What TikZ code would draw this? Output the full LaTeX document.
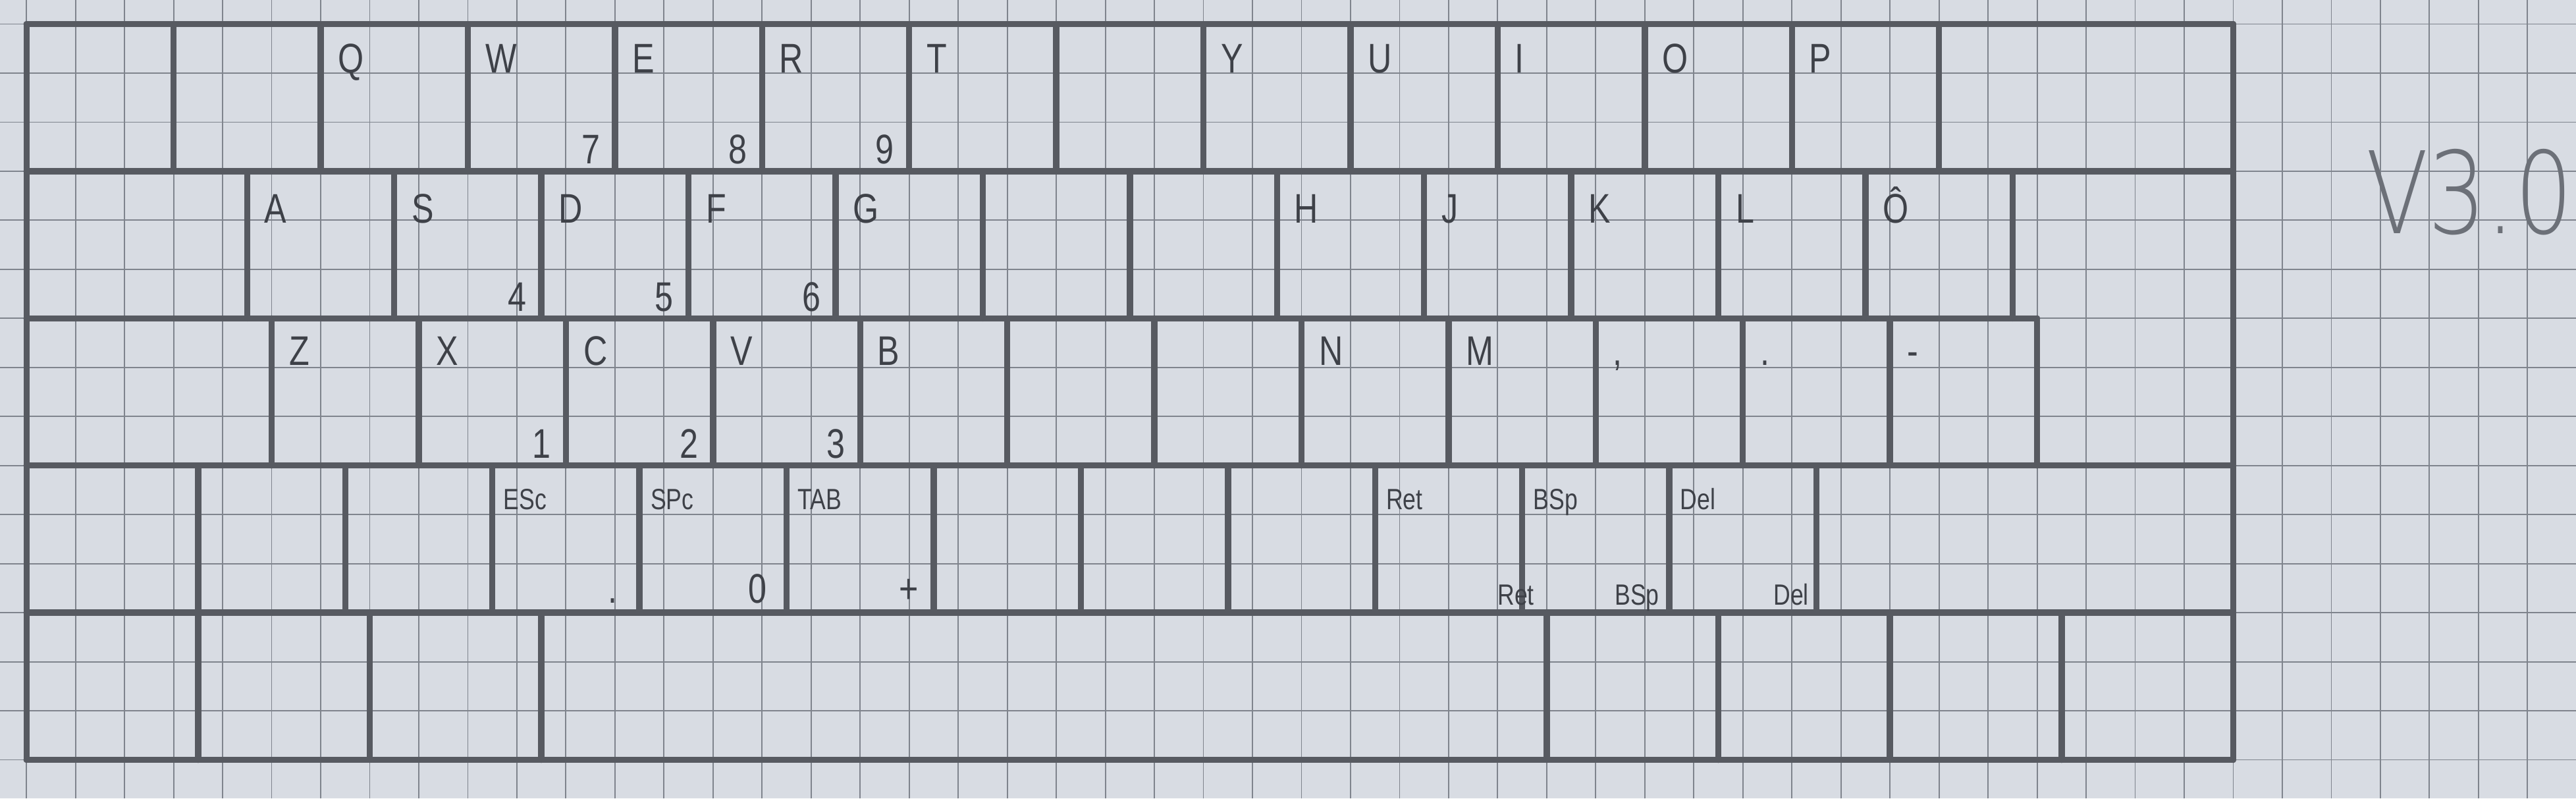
\documentclass[tikz,border=0pt]{standalone}
\usepackage{fontspec}
\setmainfont{Liberation Sans}
\newfontfamily\handfont[FakeStretch=0.8]{Liberation Sans}
\newfontfamily\thinfont[FakeStretch=0.8]{DejaVu Sans ExtraLight}
\usetikzlibrary{positioning}
\definecolor{paper}{HTML}{D8DCE3}
\definecolor{papergrid}{HTML}{7F848D}
\definecolor{pencil}{HTML}{575A61}
\definecolor{ink}{HTML}{3E4148}
\tikzstyle{gridline} = [draw=papergrid, line width=0.7pt]
\tikzstyle{keyline} = [draw=pencil, line width=3.6pt, line cap=round]
\tikzstyle{keycap} = [inner sep=0pt, text=ink, font=\handfont\fontsize{24}{24}\selectfont]
\tikzstyle{keymod} = [inner sep=0pt, text=ink, font=\handfont\fontsize{17}{17}\selectfont]
\tikzstyle{version} = [inner sep=0pt, text=papergrid!85!black, font=\thinfont\fontsize{66}{66}\selectfont]

\begin{document}
\begin{tikzpicture}
    % Paper
    \fill[paper] (-0.54,-15.79) rectangle (51.99,0.49);
    \useasboundingbox (-0.54,-15.79) rectangle (51.99,0.49);
    \draw[gridline] (-0.54,-15.79) grid (51.99,0.49);

    % Rows
    \foreach \y in {0,-3,-9,-12,-15}
        \draw[keyline] (0,\y) -- (45,\y);
    \draw[keyline] (0,-6) -- (41,-6);
    \draw[keyline] (0,0) -- (0,-15);
    \draw[keyline] (45,0) -- (45,-15);

    % Key edges
    \foreach \x in {3,6,...,39}
        \draw[keyline] (\x,0) -- (\x,-3);
    \foreach \x in {4.5,7.5,...,40.5}
        \draw[keyline] (\x,-3) -- (\x,-6);
    \foreach \x in {5,8,...,41}
        \draw[keyline] (\x,-6) -- (\x,-9);
    \foreach \x in {3.5,6.5,...,36.5}
        \draw[keyline] (\x,-9) -- (\x,-12);
    \foreach \x in {3.5,7,10.5,31,34.5,38,41.5}
        \draw[keyline] (\x,-12) -- (\x,-15);

    % Letters
    \foreach \x/\t [count=\i] in {6/Q,9/W,12/E,15/R,18/T,24/Y,27/U,30/I,33/O,36/P}
        \node (top-\i) [keycap, anchor=base west] at (\x+0.35,-1) {\t};
    \foreach \x/\t [count=\i] in {4.5/A,7.5/S,10.5/D,13.5/F,16.5/G,25.5/H,28.5/J,31.5/K,34.5/L,37.5/Ô}
        \node (home-\i) [keycap, anchor=base west] at (\x+0.35,-4.05) {\t};
    \foreach \x/\t [count=\i] in {5/Z,8/X,11/C,14/V,17/B,26/N,29/M,32/{,},35/.,38/-}
        \node (low-\i) [keycap, anchor=base west] at (\x+0.35,-6.95) {\t};

    % Numpad
    \foreach \x/\t [count=\i] in {12/7,15/8,18/9}
        \node (pad-a\i) [keycap, anchor=base east] at (\x-0.3,-2.85) {\t};
    \foreach \x/\t [count=\i] in {10.5/4,13.5/5,16.5/6}
        \node (pad-b\i) [keycap, anchor=base east] at (\x-0.3,-5.85) {\t};
    \foreach \x/\t [count=\i] in {11/1,14/2,17/3}
        \node (pad-c\i) [keycap, anchor=base east] at (\x-0.3,-8.85) {\t};
    \node (pad-d1) [keycap, anchor=base east] at (12.05,-11.8) {.};
    \node (pad-d2) [keycap, anchor=base east] at (15.1,-11.8) {0};
    \node (pad-d3) [keycap, anchor=base east] at (18.2,-11.8) {+};

    % Thumb keys
    \foreach \x/\t [count=\i] in {9.5/ESc,12.5/SPc,15.5/TAB,27.5/Ret,30.5/BSp,33.5/Del}
        \node (mod-\i) [keymod, anchor=base west] at (\x+0.22,-9.9) {\t};
    \node (alt-1) [keymod, anchor=base east] at (30.75,-11.85) {Ret};
    \node (alt-2) [keymod, anchor=base east] at (33.3,-11.85) {BSp};
    \node (alt-3) [keymod, anchor=base east] at (36.35,-11.85) {Del};

    % Version
    \node (ver) [version] at (49.82,-3.43) {V3.0};
\end{tikzpicture}
\end{document}
